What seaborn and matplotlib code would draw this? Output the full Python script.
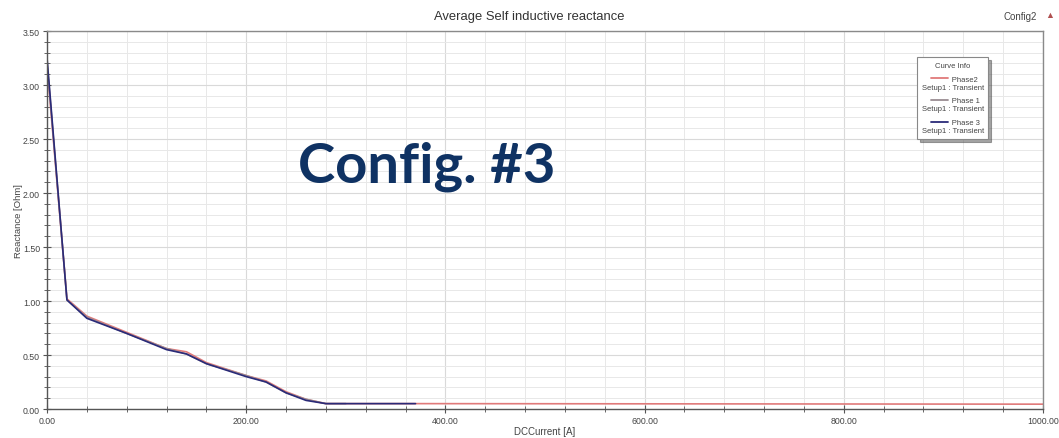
import numpy as np
import pandas as pd
import matplotlib
matplotlib.use("Agg")
import matplotlib.pyplot as plt
from matplotlib.ticker import MultipleLocator, FormatStrFormatter
from matplotlib.lines import Line2D
from matplotlib.legend_handler import HandlerLine2D
import seaborn as sns

# DC current sweep [A] and average self inductive reactance [Ohm] per phase
current_p2 = [0, 20, 40, 80, 120, 140, 160, 200, 220, 240, 260, 280, 300, 370, 1000]
phase2 = [3.18, 1.02, 0.86, 0.71, 0.56, 0.53, 0.43, 0.31, 0.26, 0.16, 0.09, 0.05, 0.05, 0.05, 0.045]

current_p1 = [0, 20, 40, 80, 120, 140, 160, 200, 220, 240, 260, 280, 300]
phase1 = [3.22, 1.01, 0.85, 0.70, 0.56, 0.51, 0.42, 0.31, 0.25, 0.15, 0.09, 0.05, 0.05]

current_p3 = [0, 20, 40, 80, 120, 140, 160, 200, 220, 240, 260, 280, 300, 370]
phase3 = [3.25, 1.01, 0.84, 0.70, 0.55, 0.51, 0.42, 0.30, 0.25, 0.15, 0.08, 0.05, 0.05, 0.05]

phase_names = ["Phase2", "Phase 1", "Phase 3"]
setup_name = "Setup1 : Transient"
x_ticks = [0, 200, 400, 600, 800, 1000]
y_ticks = [0.0, 0.5, 1.0, 1.5, 2.0, 2.5, 3.0, 3.5]

df = pd.concat([
    pd.DataFrame({"DCCurrent": current_p2, "Reactance": phase2, "Curve": phase_names[0]}),
    pd.DataFrame({"DCCurrent": current_p1, "Reactance": phase1, "Curve": phase_names[1]}),
    pd.DataFrame({"DCCurrent": current_p3, "Reactance": phase3, "Curve": phase_names[2]}),
], ignore_index=True)

colors = {"Phase2": "#e07a7a", "Phase 1": "#9a8c92", "Phase 3": "#2a2a78"}

sns.set_style("white")
plt.rcParams["font.family"] = ["Liberation Sans", "DejaVu Sans"]

fig = plt.figure(figsize=(10.59, 4.39), dpi=100)
ax = fig.add_axes([0.0444, 0.066, 0.9405, 0.861])

sns.lineplot(data=df, x="DCCurrent", y="Reactance", hue="Curve", palette=colors,
             hue_order=phase_names, estimator=None, sort=False, linewidth=1.2,
             legend=False, ax=ax)

ax.set_xlim(0, 1000)
ax.set_ylim(0, 3.5)
ax.set_xticks(x_ticks)
ax.set_yticks(y_ticks)
ax.xaxis.set_minor_locator(MultipleLocator(40))
ax.yaxis.set_minor_locator(MultipleLocator(0.1))
ax.xaxis.set_major_formatter(FormatStrFormatter("%.2f"))
ax.yaxis.set_major_formatter(FormatStrFormatter("%.2f"))

ax.grid(True, which="major", color="#d9d9d9", linewidth=0.8)
ax.grid(True, which="minor", color="#e8e8e8", linewidth=0.7)
ax.set_axisbelow(True)

for side, sp in ax.spines.items():
    sp.set_color("#8a8a8a")
    sp.set_linewidth(1.0)
ax.spines["left"].set_color("#555555")
ax.spines["bottom"].set_color("#555555")

ax.tick_params(axis="both", which="major", direction="inout", length=6, width=0.8,
               color="#555555", labelsize=6.3, labelcolor="#444444", pad=2,
               left=True, bottom=True)
ax.tick_params(axis="both", which="minor", direction="inout", length=4, width=0.7,
               color="#666666", left=True, bottom=True)

ax.set_xlabel("DCCurrent [A]", fontsize=7, color="#444444", labelpad=1)
ax.set_ylabel("Reactance [Ohm]", fontsize=6.8, color="#444444", labelpad=0)

fig.text(0.5, 0.962, "Average Self inductive reactance", ha="center", va="center",
         fontsize=9.4, color="#333333")
fig.text(0.963, 0.962, "Config2", ha="center", va="center", fontsize=7, color="#444444")
fig.text(0.9915, 0.965, "\u25B2", ha="center", va="center", fontsize=6.5, color="#b05050")

ax.text(0.3815, 0.643, "Config. #3", transform=ax.transAxes, ha="center", va="center",
        fontsize=40.5, fontweight="bold", color="#0f3263", family=["Lato", "DejaVu Sans"])


class FirstRowLine(HandlerLine2D):
    """Short line sample placed beside the first row of a two-row label."""

    def create_artists(self, legend, orig_handle, xdescent, ydescent, width, height,
                       fontsize, trans):
        x0 = -xdescent + 1.2 * fontsize
        y = -ydescent + height / 2 + 0.62 * fontsize
        line = Line2D([x0, x0 + 2.2 * fontsize], [y, y], color=orig_handle.get_color(),
                      linewidth=orig_handle.get_linewidth(), transform=trans)
        return [line]


handles = [Line2D([], [], color=colors[n], linewidth=1.3) for n in phase_names]
labels = [" " * 14 + n + "\n" + setup_name for n in phase_names]
leg = ax.legend(handles, labels, title="Curve Info", loc="upper left",
                bbox_to_anchor=(0.8735, 0.931), fontsize=5.5, title_fontsize=5.5,
                frameon=True, fancybox=False, shadow=True, handlelength=0,
                handletextpad=0, borderpad=0.6, labelspacing=0.9, framealpha=1.0,
                borderaxespad=0, handler_map={Line2D: FirstRowLine()})
leg.get_frame().set_edgecolor("#888888")
leg.get_frame().set_linewidth(0.8)
for t in leg.get_texts():
    t.set_color("#444444")
leg.get_title().set_color("#444444")

fig.savefig("out.png", dpi=100)
